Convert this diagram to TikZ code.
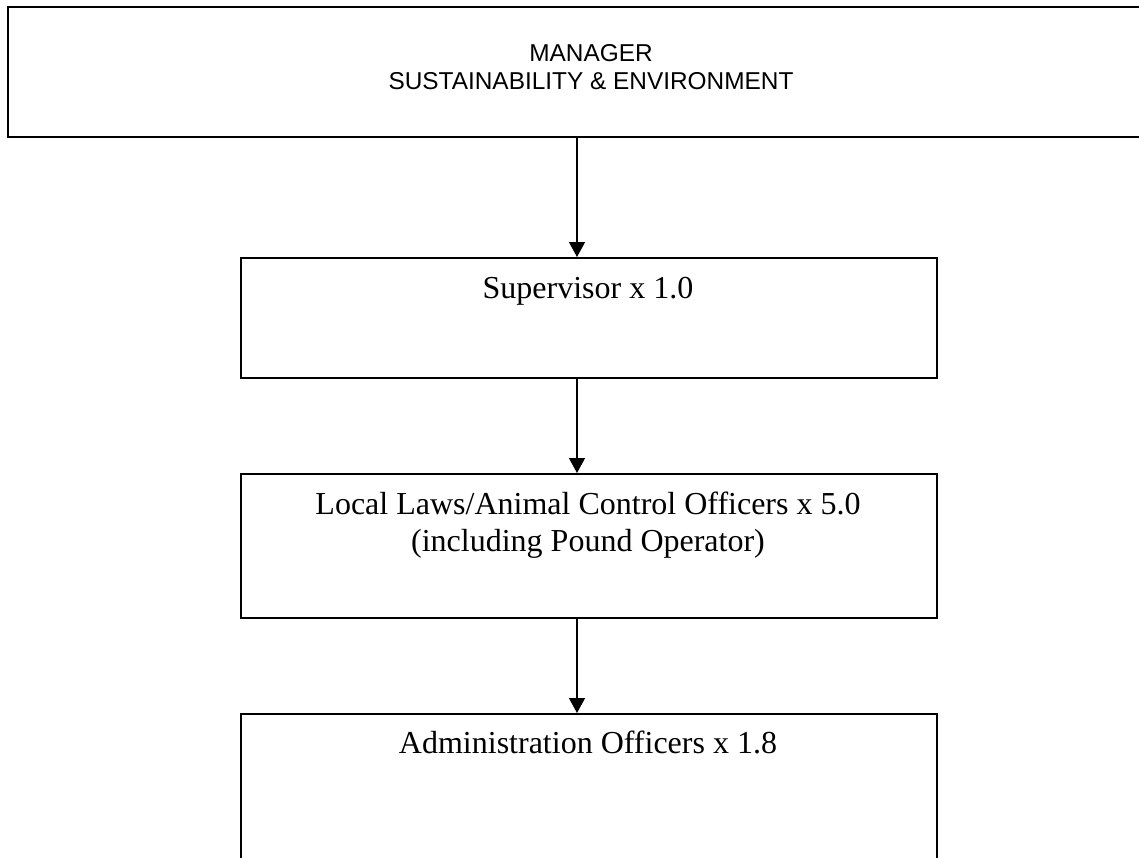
\documentclass[tikz,border=0pt]{standalone}
\usepackage{fontspec}
\setmainfont{Liberation Serif}
\newfontfamily\arialfont{Liberation Sans}
\usetikzlibrary{arrows.meta}
\tikzset{
  topbox/.style={draw, line width=1pt, rectangle, inner sep=0pt, anchor=north west},
  orgbox/.style={draw, line width=0.75pt, rectangle, inner sep=0pt, anchor=north west},
  sanstext/.style={anchor=base, inner sep=0pt, font=\arialfont\fontsize{12.2}{14}\selectfont},
  serftext/.style={anchor=base, inner sep=0pt, font=\fontsize{16}{18.4}\selectfont},
  arr/.style={line width=0.65pt, -{Triangle[length=7.5pt,width=8pt]}}
}
\begin{document}
\begin{tikzpicture}[x=0.5pt,y=-0.5pt]
\useasboundingbox (0,0) rectangle (1139,857);
\clip (0,0) rectangle (1139,857);
% boxes
\node[topbox, minimum width=584.5pt, minimum height=64.8pt] (manager) at (7,6) {};
\node[orgbox, minimum width=348pt, minimum height=60pt] (sup) at (240,257) {};
\node[orgbox, minimum width=348pt, minimum height=72pt] (local) at (240,473) {};
\node[orgbox, minimum width=348pt, minimum height=90pt] (admin) at (240,713) {};
% texts
\node[sanstext] (t1) at (591,61) {MANAGER};
\node[sanstext] (t2) at (591,89) {SUSTAINABILITY \& ENVIRONMENT};
\node[serftext] (t3) at (588,298) {Supervisor x 1.0};
\node[serftext] (t4) at (588,514) {Local Laws/Animal Control Officers x 5.0};
\node[serftext] (t5) at (588,551) {(including Pound Operator)};
\node[serftext] (t6) at (588,753) {Administration Officers x 1.8};
% connectors
\coordinate (ax) at (577,0);
\draw[arr] (manager.south -| ax) -- (sup.north -| ax);
\draw[arr] (sup.south -| ax) -- (local.north -| ax);
\draw[arr] (local.south -| ax) -- (admin.north -| ax);
\end{tikzpicture}
\end{document}
